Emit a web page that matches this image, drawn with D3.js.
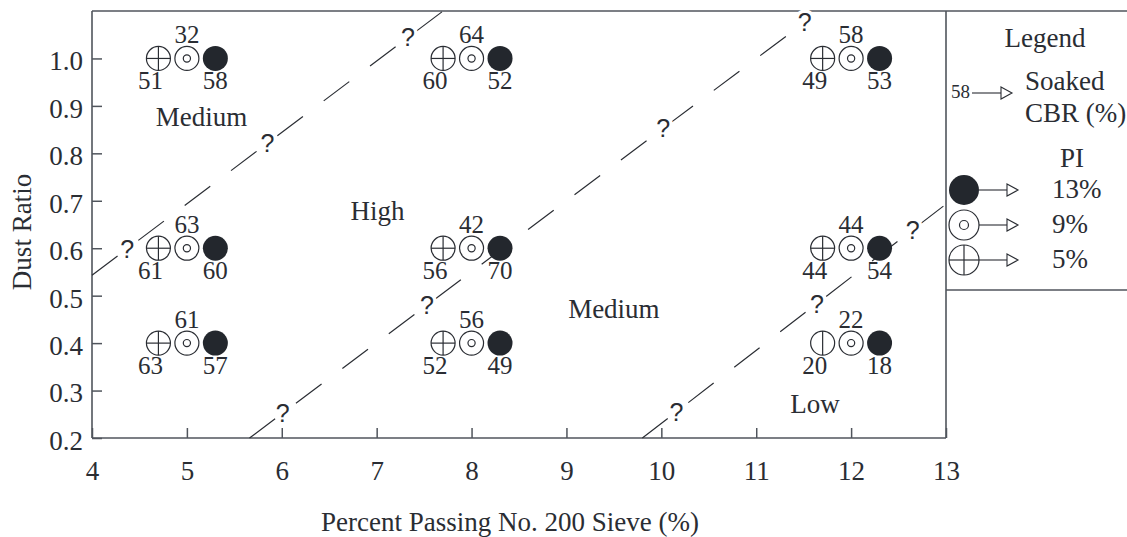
<!DOCTYPE html>
<html><head><meta charset="utf-8">
<script src="https://cdn.jsdelivr.net/npm/d3@7"></script>
<style>
body{margin:0;background:#fff;}
</style></head><body>
<svg id="chart" width="1127" height="537"></svg>
<script>
// ---- data ----
const xTicks = [4,5,6,7,8,9,10,11,12,13];
const yTicks = [0.2,0.3,0.4,0.5,0.6,0.7,0.8,0.9,1.0];
const groupX = [5,8,12, 5,8,12, 5,8,12];
const groupY = [1.0,1.0,1.0, 0.6,0.6,0.6, 0.4,0.4,0.4];
const cbrPI5  = [51,60,49, 61,56,44, 63,52,20];
const cbrPI9  = [32,64,58, 63,42,44, 61,56,22];
const cbrPI13 = [58,52,53, 60,70,54, 57,49,18];
const pi5VerticalOnly = [false,false,false, false,false,false, false,false,true];
const boundaryStartX = [4, 5.66, 9.80];
const boundaryStartY = [0.543, 0.2, 0.2];
const boundaryEndX = [7.70, 11.55, 13];
const boundaryEndY = [1.1, 1.082, 0.693];
const questionX = [[4.37,5.85,7.33],[6.01,7.53,10.02,11.51],[10.16,11.64,12.65]];
const regionLabels = ["Medium","High","Medium","Low"];
const regionX = [5.155, 7.01, 9.5, 11.62];
const regionY = [0.857, 0.659, 0.453, 0.253];
const legendPI = ["13%","9%","5%"];

// ---- drawing ----
const SERIF = "'Liberation Serif','Tinos','Times New Roman',Times,'Nimbus Roman','Nimbus Roman No9 L',FreeSerif,'DejaVu Serif','Noto Serif',serif";
const SANS = "'Liberation Sans','Arimo',Arial,'DejaVu Sans',sans-serif";
const svg = d3.select("#chart").attr("font-family",SERIF);
const ink = "#2a2d33", frame = "#50555c";
const x = d3.scaleLinear().domain([4,13]).range([92,946]);
const y = d3.scaleLinear().domain([0.2,1.1]).range([438,11]);

function T(g){ return g.append("text").attr("font-family",SERIF).attr("fill",ink); }

// axes
const gx = svg.append("g").attr("transform","translate(0,438)")
  .call(d3.axisBottom(x).tickValues(xTicks).tickSizeInner(-10).tickSizeOuter(0).tickPadding(23).tickFormat(d3.format("d")));
const gy = svg.append("g").attr("transform","translate(92,0)")
  .call(d3.axisLeft(y).tickValues(yTicks).tickSizeInner(-10).tickSizeOuter(0).tickPadding(9).tickFormat(d3.format(".1f")));
[gx,gy].forEach(g=>{
  g.attr("font-family",SERIF).attr("font-size",27);
  g.select(".domain").remove();
  g.selectAll(".tick line").attr("stroke",frame).attr("stroke-width",1.5);
  g.selectAll(".tick text").attr("font-size",27).attr("font-family",SERIF).attr("fill",ink);
});
gy.selectAll(".tick text").attr("dy","0.42em");

// frame
const fr = svg.append("g").attr("stroke",frame).attr("stroke-width",1.6).attr("fill","none");
fr.append("line").attr("x1",x(4)).attr("x2",x(4)).attr("y1",y(1.1)).attr("y2",y(0.2));
fr.append("line").attr("x1",x(4)).attr("x2",x(13)).attr("y1",y(0.2)).attr("y2",y(0.2));
fr.append("line").attr("x1",x(13)).attr("x2",x(13)).attr("y1",y(1.1)).attr("y2",y(0.2));
fr.append("line").attr("x1",x(4)).attr("x2",1127).attr("y1",y(1.1)).attr("y2",y(1.1));
fr.append("line").attr("x1",x(13)).attr("x2",1127).attr("y1",290).attr("y2",290);

// axis titles
T(svg).attr("x",510).attr("y",531).attr("text-anchor","middle").attr("font-size",27)
  .text("Percent Passing No. 200 Sieve (%)");
T(svg).attr("transform","translate(31,232) rotate(-90)").attr("text-anchor","middle").attr("font-size",27)
  .text("Dust Ratio");

// boundary lines
const bl = svg.append("g");
boundaryStartX.forEach((sx,i)=>{
  bl.append("line").attr("x1",x(sx)).attr("y1",y(boundaryStartY[i]))
    .attr("x2",x(boundaryEndX[i])).attr("y2",y(boundaryEndY[i]))
    .attr("stroke",ink).attr("stroke-width",1.2).attr("stroke-dasharray","32,26");
});
questionX.forEach((qs,i)=>{
  const lineY = d3.scaleLinear().domain([boundaryStartX[i],boundaryEndX[i]]).range([boundaryStartY[i],boundaryEndY[i]]);
  qs.forEach(qx=>{
    bl.append("text").attr("x",x(qx)).attr("y",y(lineY(qx))).attr("dy","0.36em")
      .attr("text-anchor","middle").attr("font-size",25)
      .attr("font-family",SANS).attr("fill",ink)
      .attr("stroke","#fff").attr("stroke-width",7).attr("paint-order","stroke")
      .text("?");
  });
});

// region labels
regionLabels.forEach((t,i)=>{
  T(svg).attr("x",x(regionX[i])).attr("y",y(regionY[i])).attr("text-anchor","middle")
    .attr("font-size",27).text(t);
});

// marker helpers
function crossed(g,cx,cy,r,vOnly){
  g.append("circle").attr("cx",cx).attr("cy",cy).attr("r",r).attr("fill","#fff").attr("stroke",ink).attr("stroke-width",1.2);
  g.append("line").attr("x1",cx).attr("x2",cx).attr("y1",cy-r).attr("y2",cy+r).attr("stroke",ink).attr("stroke-width",1.2);
  if(!vOnly) g.append("line").attr("x1",cx-r).attr("x2",cx+r).attr("y1",cy).attr("y2",cy).attr("stroke",ink).attr("stroke-width",1.2);
}
function target(g,cx,cy,r){
  g.append("circle").attr("cx",cx).attr("cy",cy).attr("r",r).attr("fill","#fff").attr("stroke",ink).attr("stroke-width",1.2);
  g.append("circle").attr("cx",cx).attr("cy",cy).attr("r",r*0.3).attr("fill","#fff").attr("stroke",ink).attr("stroke-width",1.2);
}
function filled(g,cx,cy,r){
  g.append("circle").attr("cx",cx).attr("cy",cy).attr("r",r).attr("fill","#23272d");
}

const mk = svg.append("g");
const off = 0.3, R = 12;
groupX.forEach((gxv,i)=>{
  const cy = y(groupY[i]);
  crossed(mk, x(gxv-off), cy, R, pi5VerticalOnly[i]);
  target(mk, x(gxv), cy, R);
  filled(mk, x(gxv+off), cy, R+0.5);
  T(mk).attr("x",x(gxv)).attr("y",cy-15).attr("text-anchor","middle").attr("font-size",25).text(cbrPI9[i]);
  T(mk).attr("x",x(gxv-off)-8).attr("y",cy+31).attr("text-anchor","middle").attr("font-size",25).text(cbrPI5[i]);
  T(mk).attr("x",x(gxv+off)).attr("y",cy+31).attr("text-anchor","middle").attr("font-size",25).text(cbrPI13[i]);
});

// legend
const lg = svg.append("g");
function arrow(g,x1,x2,cy){
  g.append("line").attr("x1",x1).attr("x2",x2).attr("y1",cy).attr("y2",cy).attr("stroke",ink).attr("stroke-width",1.1);
  g.append("path").attr("d",`M${x2},${cy-6}L${x2+11},${cy}L${x2},${cy+6}Z`).attr("fill","#fff").attr("stroke",ink).attr("stroke-width",1.1);
}
T(lg).attr("x",1045).attr("y",47).attr("text-anchor","middle").attr("font-size",27).text("Legend");
T(lg).attr("x",951).attr("y",98).attr("font-size",19).text(cbrPI13[0]);
arrow(lg,972,1001,93);
T(lg).attr("x",1025).attr("y",90).attr("font-size",27).text("Soaked");
T(lg).attr("x",1025).attr("y",122).attr("font-size",27).text("CBR (%)");
T(lg).attr("x",1072).attr("y",167).attr("text-anchor","middle").attr("font-size",27).text("PI");
const legY = [190,225,260];
legendPI.forEach((t,i)=>{
  const cy = legY[i], cx = 964, r = 15;
  if(i===0) filled(lg,cx,cy,r); else if(i===1) target(lg,cx,cy,r); else crossed(lg,cx,cy,r,false);
  arrow(lg,cx+r,1007,cy);
  T(lg).attr("x",1052).attr("y",cy+8).attr("font-size",27).text(t);
});
</script>
</body></html>
